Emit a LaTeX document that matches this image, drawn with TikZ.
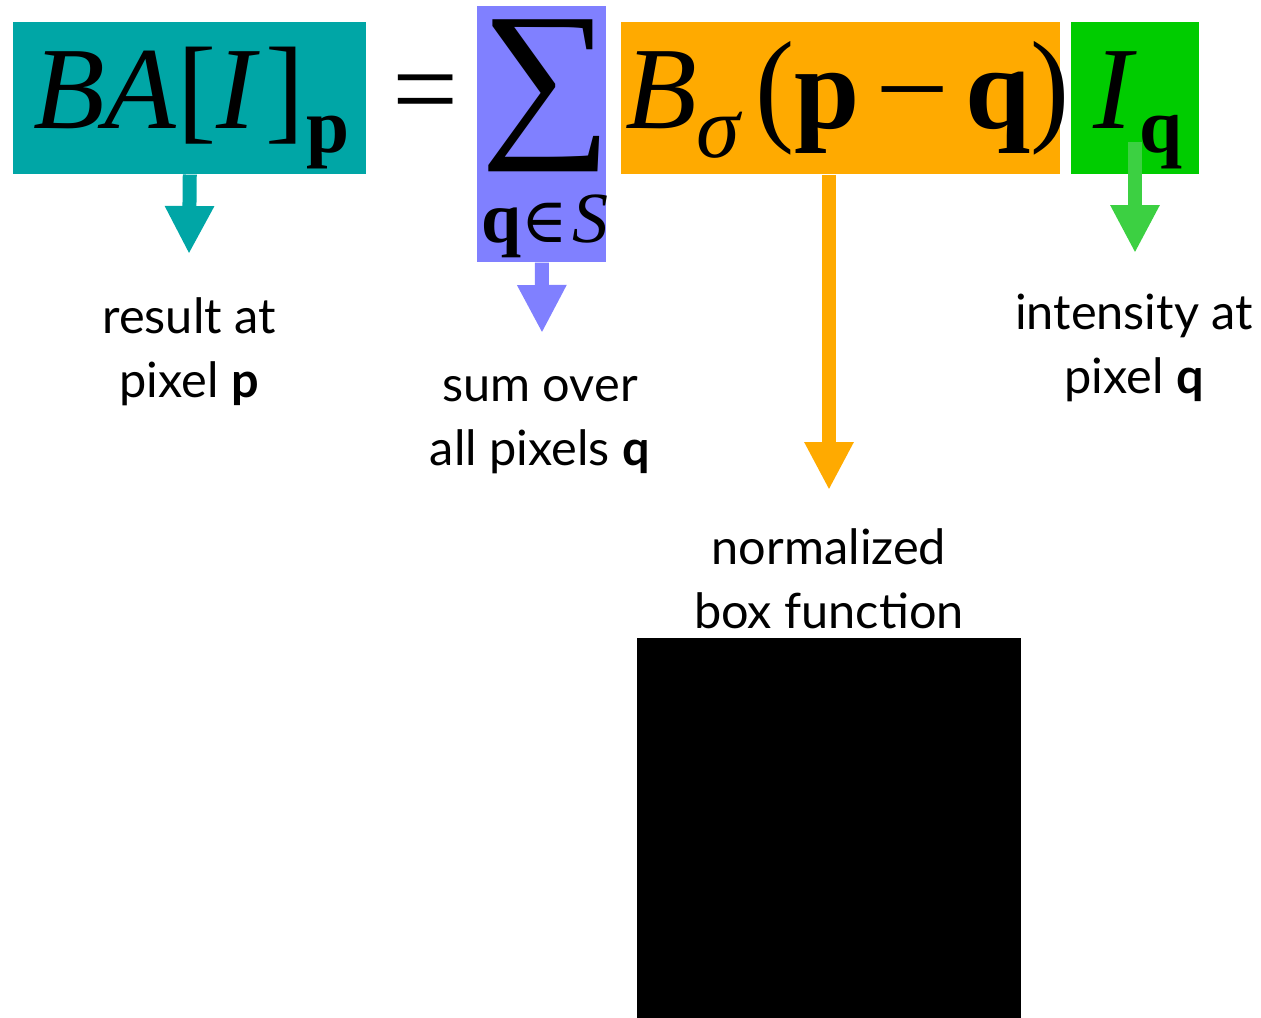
\documentclass[tikz,border=0pt]{standalone}
\usepackage{fontspec}
\usepackage{graphicx}
\setmainfont{Lato}
\newfontfamily\tms{Liberation Serif}
\newfontfamily\dvs{DejaVu Serif}
\usetikzlibrary{arrows.meta}

\definecolor{bateal}{RGB}{0,166,166}
\definecolor{sumblue}{RGB}{128,128,255}
\definecolor{kernorange}{RGB}{255,170,0}
\definecolor{intgreen}{RGB}{0,204,0}
\definecolor{arrgreen}{RGB}{60,208,66}

\newcommand{\frm}{\tms\fontsize{88}{88}\selectfont}
\newcommand{\frmsub}[1]{\raisebox{-18pt}{\fontsize{58}{58}\selectfont\bfseries #1}}

\tikzset{
	termbox/.style={inner sep=0pt, anchor=north west},
	formula/.style={inner sep=0pt, anchor=base west, font=\frm},
	lbl/.style={align=center, anchor=base, inner sep=0pt, font=\fontsize{36.5}{48}\selectfont},
	callout/.style={line width=10.5pt, -{Triangle[width=34.5pt,length=36pt]}}
}

\begin{document}
\begin{tikzpicture}[x=0.75pt, y=-0.75pt]
	\useasboundingbox (0,0) rectangle (1261,1018);
	
	% coloured boxes behind the terms
	\node[termbox, fill=bateal, minimum width=264.75pt, minimum height=114pt] (ba) at (13,22) {};
	\node[termbox, fill=sumblue, minimum width=96.75pt, minimum height=192pt] (sum) at (477,6) {};
	\node[termbox, fill=kernorange, minimum width=329.25pt, minimum height=114pt] (bs) at (621,22) {};
	\node[termbox, fill=intgreen, minimum width=96pt, minimum height=114pt] (iq) at (1071,22) {};
	
	% the formula
	\node[formula] (baterm) at (33,128) {\itshape BA\/\upshape[\itshape I\/\upshape\hspace{4pt}]\hspace{2pt}\frmsub{p}};
	\node[formula, anchor=base] (eq) at (426,128) {=};
	\node[inner sep=0pt] (sigma) at (547,96) {\resizebox*{99pt}{114pt}{\tms ∑}};
	\node[formula, anchor=base, font=\tms\fontsize{54}{54}\selectfont] (range) at (545,242) {\bfseries q\mdseries{\dvs\fontsize{47}{47}\selectfont ∈}\hspace{4pt}\itshape S};
	\node[formula] (bsterm) at (625,128) {\itshape B\/\raisebox{-22pt}{\fontsize{66}{66}\selectfont σ}\upshape\hspace{11pt}\scalebox{1}[1.07]{(}\bfseries p\mdseries\hspace{12pt}\scalebox{1.12}[1]{−}\hspace{12pt}\bfseries q\mdseries\scalebox{1}[1.07]{)}};
	\node[formula] (iqterm) at (1093,128) {\itshape I\/\upshape\hspace{2pt}\frmsub{q}};
	
	% arrow tips
	\coordinate (batip) at (189,254);
	\coordinate (sumtip) at (542,333);
	\coordinate (bstip) at (829,490);
	\coordinate (iqstart) at (1135,142);
	\coordinate (iqtip) at (1135,253);
	
	% arrows
	\draw[callout, bateal] (ba.south) -- (batip);
	\draw[callout, sumblue] (sum.south) -- (sumtip);
	\draw[callout, kernorange] (bs.south -| bstip) -- (bstip);
	\draw[callout, arrgreen] (iqstart) -- (iqtip);
	
	% labels
	\node[lbl] (reslbl) at (189,397) {result at\\pixel \textbf{p}};
	\node[lbl] (sumlbl) at (540,465) {sum over\\all pixels \textbf{q}};
	\node[lbl] (normlbl) at (829,628) {normalized\\box function};
	\node[lbl] (intlbl) at (1134,393) {intensity at\\pixel \textbf{q}};
	
	% box function
	\node[termbox, fill=black, minimum width=288pt, minimum height=285pt] (boxfn) at (637,638) {};
	
\end{tikzpicture}
\end{document}
